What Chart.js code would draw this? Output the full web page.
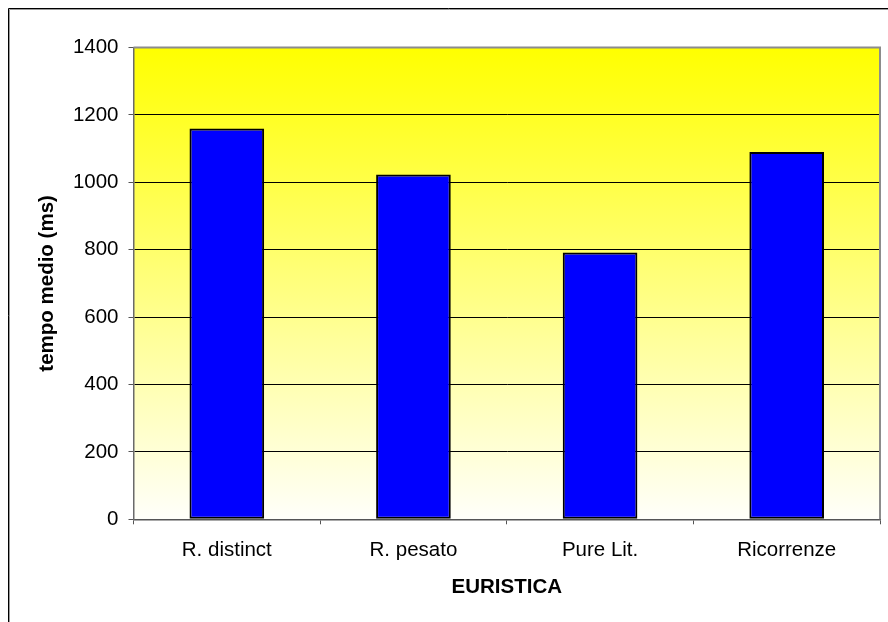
<!DOCTYPE html>
<html lang="it">
<head>
<meta charset="utf-8">
<title>Tempo medio per euristica</title>
<script src="https://cdn.jsdelivr.net/npm/chart.js@4.4.0/dist/chart.umd.min.js"></script>
<style>
    html, body { margin: 0; padding: 0; background: #ffffff; }
    #grafico { display: block; }
</style>
</head>
<body>
<canvas id="grafico" width="888" height="622"></canvas>
<script>
// Dati
const euristiche = ['R. distinct', 'R. pesato', 'Pure Lit.', 'Ricorrenze'];
const tempiMedi = [1160, 1023, 792, 1090];
const tickY = [0, 200, 400, 600, 800, 1000, 1200, 1400];

const FONT = '"Liberation Sans", Arial, sans-serif';

// Cornice esterna + sfondo sfumato dell'area del grafico
const sfondoPlugin = {
    id: 'sfondo',
    beforeDraw(chart) {
        const ctx = chart.ctx;
        const a = chart.chartArea;
        ctx.save();
        ctx.fillStyle = '#ffffff';
        ctx.fillRect(0, 0, chart.width, chart.height);

        // cornice (esce dal bordo a destra e in basso)
        ctx.strokeStyle = '#9a9a9a';
        ctx.lineWidth = 1;
        ctx.beginPath();
        ctx.moveTo(9.5, chart.height + 5);
        ctx.lineTo(9.5, 9.5);
        ctx.lineTo(chart.width + 5, 9.5);
        ctx.stroke();
        ctx.strokeStyle = '#000000';
        ctx.beginPath();
        ctx.moveTo(8.5, chart.height + 5);
        ctx.lineTo(8.5, 8.5);
        ctx.lineTo(chart.width + 5, 8.5);
        ctx.stroke();

        const g = ctx.createLinearGradient(0, a.top, 0, a.bottom);
        g.addColorStop(0, '#ffff00');
        g.addColorStop(1, '#fffffa');
        ctx.fillStyle = g;
        ctx.fillRect(a.left, a.top, a.right - a.left, a.bottom - a.top);
        ctx.restore();
    },
    beforeDatasetsDraw(chart) {
        // bordo grigio sopra e a destra
        const ctx = chart.ctx;
        const a = chart.chartArea;
        ctx.save();
        ctx.strokeStyle = '#8c8c8c';
        ctx.lineWidth = 2;
        ctx.beginPath();
        ctx.moveTo(a.left, a.top);
        ctx.lineTo(a.right, a.top);
        ctx.lineTo(a.right, a.bottom);
        ctx.stroke();
        ctx.restore();
    }
};

const ctx = document.getElementById('grafico').getContext('2d');
const grafico = new Chart(ctx, {
    type: 'bar',
    data: {
        labels: euristiche,
        datasets: [{
            data: tempiMedi,
            backgroundColor: '#0000ff',
            borderColor: '#000000',
            borderWidth: 2,
            borderSkipped: false,
            barPercentage: 0.4,
            categoryPercentage: 1.0
        }]
    },
    options: {
        responsive: false,
        animation: false,
        events: [],
        layout: {
            padding: { left: 0, top: 47.5, right: 8, bottom: 0 }
        },
        plugins: {
            legend: { display: false },
            tooltip: { enabled: false }
        },
        scales: {
            x: {
                grid: {
                    offset: true,
                    drawOnChartArea: false,
                    drawTicks: true,
                    tickLength: 5,
                    color: '#555555'
                },
                border: { color: '#555555', width: 1.5 },
                ticks: {
                    color: '#000000',
                    padding: 14,
                    font: { family: FONT, size: 20.5 }
                },
                title: {
                    display: true,
                    text: 'EURISTICA',
                    color: '#000000',
                    padding: { top: 0, bottom: 22 },
                    font: { family: FONT, size: 20.5, weight: 'bold' }
                },
                afterFit(scale) {
                    scale.height = 102.7;
                }
            },
            y: {
                min: 0,
                max: 1400,
                afterBuildTicks(scale) {
                    scale.ticks = tickY.map(v => ({ value: v }));
                },
                grid: {
                    color: ctx => ctx.tick && ctx.tick.value === 1400 ? '#8c8c8c' : '#000000',
                    lineWidth: 1,
                    tickColor: '#555555',
                    tickLength: 5
                },
                border: { color: '#6a6a6a', width: 1.5 },
                ticks: {
                    color: '#000000',
                    padding: 10,
                    font: { family: FONT, size: 20.5 },
                    callback: v => String(v)
                },
                title: {
                    display: true,
                    text: 'tempo medio (ms)',
                    color: '#000000',
                    padding: { top: 35, bottom: 0 },
                    font: { family: FONT, size: 20.5, weight: 'bold' }
                },
                afterFit(scale) {
                    scale.width = 133.5;
                }
            }
        }
    },
    plugins: [sfondoPlugin]
});
</script>
</body>
</html>
